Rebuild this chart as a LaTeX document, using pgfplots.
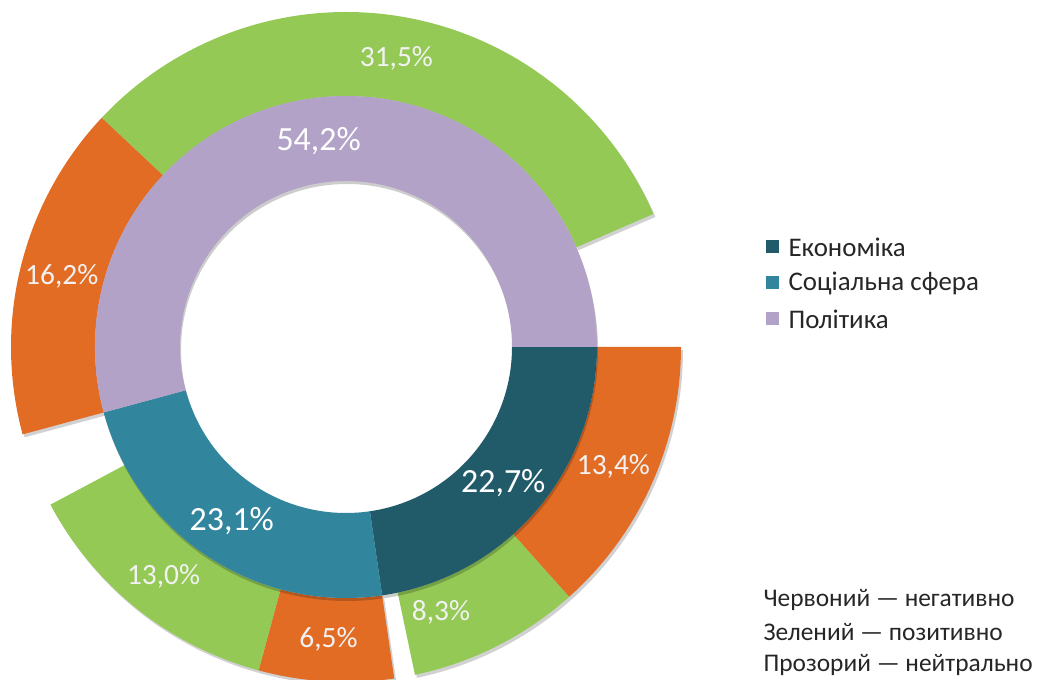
\documentclass[border=0pt]{standalone}
\usepackage{fontspec}
\setmainfont{Carlito}
\usepackage{pgfplots}
\pgfplotsset{compat=1.18}

\definecolor{cEcon}{HTML}{215A69}
\definecolor{cSoc}{HTML}{31859C}
\definecolor{cPol}{HTML}{B3A2C7}
\definecolor{cNeg}{HTML}{E36C25}
\definecolor{cPos}{HTML}{94C955}
\definecolor{cTxt}{HTML}{262626}

% centre and radii, in px of the picture (1 unit = 1bp)
\def\cx{346}\def\cy{333}
\def\rA{166}\def\rB{251}\def\rC{335}

% ring piece: #1 style, #2 start (%), #3 value (%), #4 inner r, #5 outer r
\newcommand{\ring}[5]{%
  \fill[#1,shift={(axis cs:\cx,\cy)}]
    ({-3.6*(#2)}:#4bp) -- ({-3.6*(#2)}:#5bp)
    arc[start angle={-3.6*(#2)}, end angle={-3.6*(#2+#3)}, radius=#5bp]
    -- ({-3.6*(#2+#3)}:#4bp)
    arc[start angle={-3.6*(#2+#3)}, end angle={-3.6*(#2)}, radius=#4bp] -- cycle;}
\newcommand{\outerpiece}[3]{\ring{#1}{#2}{#3}{\rB}{\rC}}
% label at the middle of a piece: #1 start, #2 value, #3 radius, #4 size, #5 colour, #6 text
\newcommand{\lab}[6]{%
  \path[shift={(axis cs:\cx,\cy)}] ({-3.6*(#1+#2/2)}:#3bp)
    node[text=#5,font=\fontsize{#4}{#4}\selectfont] {#6};}

\begin{document}
\begin{tikzpicture}
\begin{axis}[
    hide axis, scale only axis,
    width=1057bp, height=680bp,
    xmin=0, xmax=1057, ymin=0, ymax=680,
    clip=true,
]
\path (axis cs:0,0) rectangle (axis cs:1057,680);

% shadows of the outer pieces
\tikzset{shd/.style={black,opacity=0.18,xshift=2bp,yshift=-3bp}}
\outerpiece{shd}{0}{21.7}
\outerpiece{shd}{22.7}{19.5}
\outerpiece{shd}{45.8}{47.7}

% outer ring: negative, positive, neutral (neutral left empty)
% Економіка: 13.4 / 8.3 / 1.0
\outerpiece{cNeg}{0}{13.4}
\outerpiece{cPos}{13.4}{8.3}
% Соціальна сфера: 6.5 / 13.0 / 3.6
\outerpiece{cNeg}{22.7}{6.5}
\outerpiece{cPos}{29.2}{13.0}
% Політика: 16.2 / 31.5 / 6.5
\outerpiece{cNeg}{45.8}{16.2}
\outerpiece{cPos}{62.0}{31.5}

% inner ring
\ring{black,opacity=0.2,xshift=1bp,yshift=-3bp}{0}{100}{\rA}{\rB}
\ring{cEcon}{0}{22.7}{\rA}{\rB}
\ring{cSoc}{22.7}{23.1}{\rA}{\rB}
\ring{cPol}{45.8}{54.2}{\rA}{\rB}

% labels
\lab{0}{22.7}{208}{34}{white}{22,7\%}
\lab{22.7}{23.1}{208}{34}{white}{23,1\%}
\lab{45.8}{54.2}{208}{34}{white}{54,2\%}
\lab{0}{13.4}{293}{29.5}{white!95!black}{13,4\%}
\node[text=white!95!black,font=\fontsize{29.5}{29.5}\selectfont] at (axis cs:441,68) {8,3\%};
\lab{22.7}{6.5}{293}{29.5}{white!95!black}{6,5\%}
\lab{29.2}{13.0}{293}{29.5}{white!95!black}{13,0\%}
\lab{45.8}{16.2}{293}{29.5}{white!95!black}{16,2\%}
\lab{62.0}{31.5}{293}{29.5}{white!95!black}{31,5\%}

% legend
\fill[cEcon] (axis cs:766,426.5) rectangle (axis cs:779,439.5);
\fill[cSoc]  (axis cs:766,390.5) rectangle (axis cs:779,403.5);
\fill[cPol]  (axis cs:766,354.5) rectangle (axis cs:779,367.5);
\node[anchor=west,text=cTxt,font=\fontsize{27}{27}\selectfont] at (axis cs:785,433) {Економіка};
\node[anchor=west,text=cTxt,font=\fontsize{27}{27}\selectfont] at (axis cs:785,397) {Соціальна сфера};
\node[anchor=west,text=cTxt,font=\fontsize{27}{27}\selectfont] at (axis cs:785,361) {Політика};

% note
\node[anchor=west,text=cTxt,font=\fontsize{25.5}{25.5}\selectfont] at (axis cs:760,80) {Червоний — негативно};
\node[anchor=west,text=cTxt,font=\fontsize{25.5}{25.5}\selectfont] at (axis cs:760,48) {Зелений — позитивно};
\node[anchor=west,text=cTxt,font=\fontsize{25.5}{25.5}\selectfont] at (axis cs:760,15) {Прозорий — нейтрально};
\end{axis}
\end{tikzpicture}
\end{document}
